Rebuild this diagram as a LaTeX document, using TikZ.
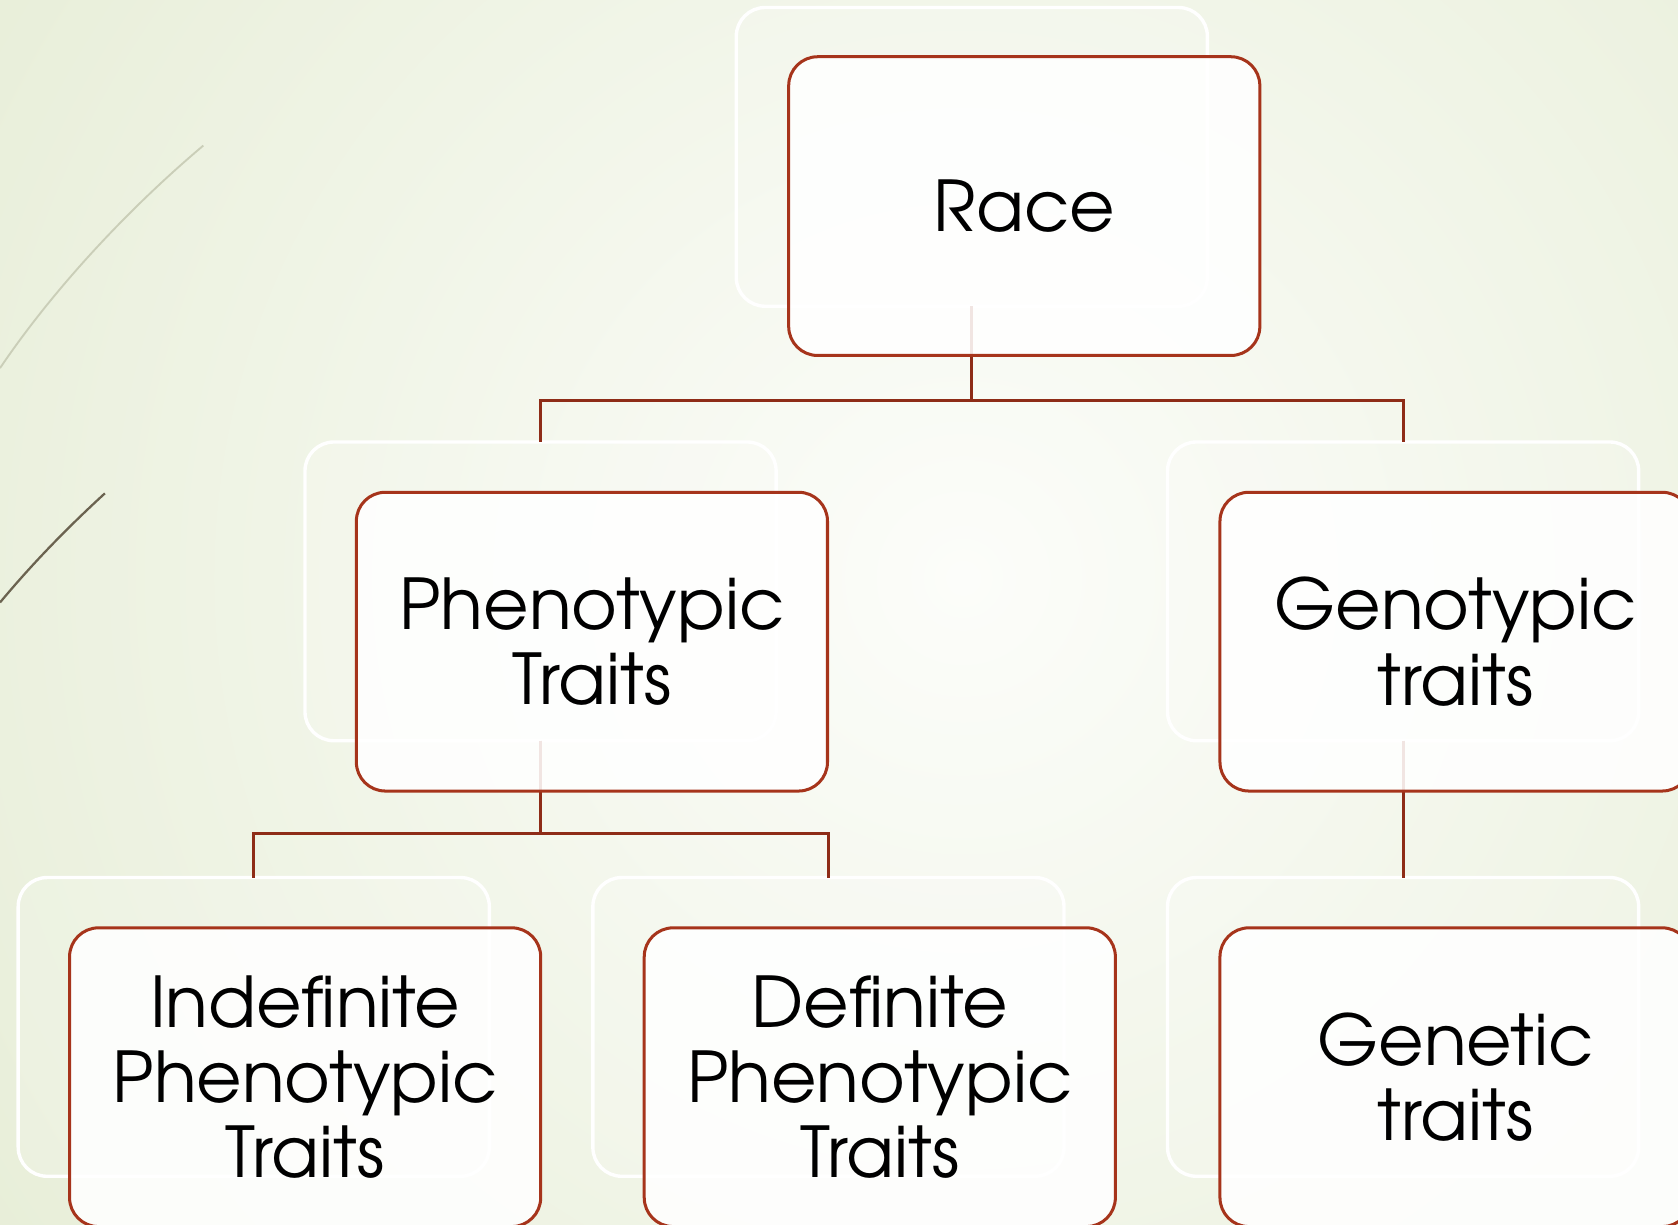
\documentclass[tikz,border=0pt]{standalone}
\usepackage{fontspec}
\setmainfont{TeX Gyre Adventor}
\definecolor{bgouter}{HTML}{E2EACF}
\definecolor{bginner}{HTML}{FCFDFA}
\definecolor{boxred}{HTML}{A6341B}
\definecolor{connred}{HTML}{8E2C17}
\definecolor{decolight}{HTML}{CACEB8}
\definecolor{decodark}{HTML}{6B6350}
\begin{document}
\begin{tikzpicture}[x=0.01cm,y=-0.01cm,
  ghostbox/.style={draw=white, line width=0.9pt, rounded corners=0.27cm,
    fill=white, fill opacity=0.15, minimum width=4.4cm, minimum height=2.79cm,
    anchor=north west, inner sep=0pt, outer sep=0pt},
  redbox/.style={draw=boxred, line width=0.8pt, rounded corners=0.27cm,
    fill=white, fill opacity=0.88, text opacity=1, text=black,
    minimum width=4.4cm, minimum height=2.79cm, anchor=north west,
    inner sep=0pt, outer sep=0pt, align=center,
    font=\fontsize{18.6}{20}\selectfont},
  conn/.style={draw=connred, line width=0.75pt}]
\useasboundingbox (0,0) rectangle (1568,1144);
\clip (0,0) rectangle (1568,1144);
% background
\fill[bgouter] (0,0) rectangle (1568,1144);
\shade[inner color=bginner, outer color=bgouter] (900,540) circle (1400);
% decorative strokes
\draw[decolight, line width=0.5pt] (190,136) .. controls (120,195) and (50,270) .. (0,344);
\draw[decodark, line width=0.6pt] (98,461) .. controls (62,494) and (30,527) .. (0,563);
% ghost boxes
\node[ghostbox] (gRace) at (688,7) {};
\node[ghostbox] (gPheno) at (285,413) {};
\node[ghostbox] (gGeno) at (1091,413) {};
\node[ghostbox] (gIndef) at (17,820) {};
\node[ghostbox] (gDef) at (554,820) {};
\node[ghostbox] (gGenetic) at (1091,820) {};
% connectors
\draw[conn] (gRace.south) -- ++(0,88) -| (gPheno.north);
\draw[conn] (gRace.south) -- ++(0,88) -| (gGeno.north);
\draw[conn] (gPheno.south) -- ++(0,87) -| (gIndef.north);
\draw[conn] (gPheno.south) -- ++(0,87) -| (gDef.north);
\draw[conn] (gGeno.south) -- (gGenetic.north);
% main boxes
\node[redbox] (race) at (737,53) {Race};
\node[redbox] (pheno) at (333,460) {Phenotypic\\Traits};
\node[redbox] (geno) at (1140,460) {Genotypic\\traits};
\node[redbox] (indef) at (65,867) {Indefinite\\Phenotypic\\Traits};
\node[redbox] (def) at (602,867) {Definite\\Phenotypic\\Traits};
\node[redbox] (genetic) at (1140,867) {Genetic\\traits};
\end{tikzpicture}
\end{document}
